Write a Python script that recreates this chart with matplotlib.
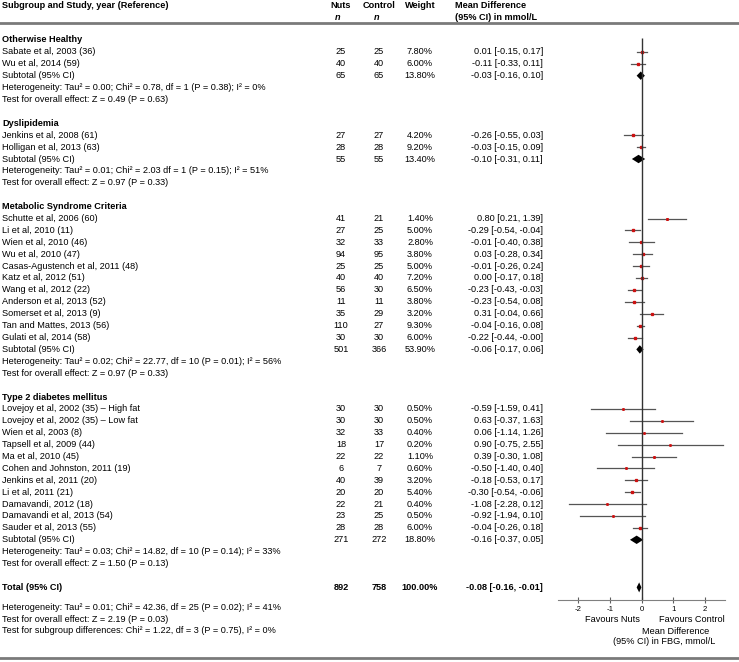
import matplotlib
matplotlib.use("Agg")
import matplotlib.pyplot as plt

plt.rcParams['font.family'] = ['Liberation Sans', 'DejaVu Sans']
plt.rcParams['axes.unicode_minus'] = False

# ---- data ----
groups = ["Otherwise Healthy", "Dyslipidemia", "Metabolic Syndrome Criteria", "Type 2 diabetes mellitus"]

studies = [
    ["Sabate et al, 2003 (36)", "Wu et al, 2014 (59)"],
    ["Jenkins et al, 2008 (61)", "Holligan et al, 2013 (63)"],
    ["Schutte et al, 2006 (60)", "Li et al, 2010 (11)", "Wien et al, 2010 (46)", "Wu et al, 2010 (47)",
     "Casas-Agustench et al, 2011 (48)", "Katz et al, 2012 (51)", "Wang et al, 2012 (22)",
     "Anderson et al, 2013 (52)", "Somerset et al, 2013 (9)", "Tan and Mattes, 2013 (56)",
     "Gulati et al, 2014 (58)"],
    ["Lovejoy et al, 2002 (35) \u2013 High fat", "Lovejoy et al, 2002 (35) \u2013 Low fat",
     "Wien et al, 2003 (8)", "Tapsell et al, 2009 (44)", "Ma et al, 2010 (45)",
     "Cohen and Johnston, 2011 (19)", "Jenkins et al, 2011 (20)", "Li et al, 2011 (21)",
     "Damavandi, 2012 (18)", "Damavandi et al, 2013 (54)", "Sauder et al, 2013 (55)"],
]
n_nuts = [[25, 40], [27, 28],
          [41, 27, 32, 94, 25, 40, 56, 11, 35, 110, 30],
          [30, 30, 32, 18, 22, 6, 40, 20, 22, 23, 28]]
n_ctrl = [[25, 40], [27, 28],
          [21, 25, 33, 95, 25, 40, 30, 11, 29, 27, 30],
          [30, 30, 33, 17, 22, 7, 39, 20, 21, 25, 28]]
weights = [[7.8, 6.0], [4.2, 9.2],
           [1.4, 5.0, 2.8, 3.8, 5.0, 7.2, 6.5, 3.8, 3.2, 9.3, 6.0],
           [0.5, 0.5, 0.4, 0.2, 1.1, 0.6, 3.2, 5.4, 0.4, 0.5, 6.0]]
md = [[0.01, -0.11], [-0.26, -0.03],
      [0.80, -0.29, -0.01, 0.03, -0.01, 0.00, -0.23, -0.23, 0.31, -0.04, -0.22],
      [-0.59, 0.63, 0.06, 0.90, 0.39, -0.50, -0.18, -0.30, -1.08, -0.92, -0.04]]
lo = [[-0.15, -0.33], [-0.55, -0.15],
      [0.21, -0.54, -0.40, -0.28, -0.26, -0.17, -0.43, -0.54, -0.04, -0.16, -0.44],
      [-1.59, -0.37, -1.14, -0.75, -0.30, -1.40, -0.53, -0.54, -2.28, -1.94, -0.26]]
hi = [[0.17, 0.11], [0.03, 0.09],
      [1.39, -0.04, 0.38, 0.34, 0.24, 0.18, -0.03, 0.08, 0.66, 0.08, -0.00],
      [0.41, 1.63, 1.26, 2.55, 1.08, 0.40, 0.17, -0.06, 0.12, 0.10, 0.18]]

sub_n_nuts = [65, 55, 501, 271]
sub_n_ctrl = [65, 55, 366, 272]
sub_weight = [13.8, 13.4, 53.9, 18.8]
sub_md = [-0.03, -0.10, -0.06, -0.16]
sub_lo = [-0.16, -0.31, -0.17, -0.37]
sub_hi = [0.10, 0.11, 0.06, 0.05]
heterogeneity = [
    "Heterogeneity: Tau\u00b2 = 0.00; Chi\u00b2 = 0.78, df = 1 (P = 0.38); I\u00b2 = 0%",
    "Heterogeneity: Tau\u00b2 = 0.01; Chi\u00b2 = 2.03 df = 1 (P = 0.15); I\u00b2 = 51%",
    "Heterogeneity: Tau\u00b2 = 0.02; Chi\u00b2 = 22.77, df = 10 (P = 0.01); I\u00b2 = 56%",
    "Heterogeneity: Tau\u00b2 = 0.03; Chi\u00b2 = 14.82, df = 10 (P = 0.14); I\u00b2 = 33%",
]
overall = [
    "Test for overall effect: Z = 0.49 (P = 0.63)",
    "Test for overall effect: Z = 0.97 (P = 0.33)",
    "Test for overall effect: Z = 0.97 (P = 0.33)",
    "Test for overall effect: Z = 1.50 (P = 0.13)",
]

total_n = (892, 758)
total_weight = 100.0
total_md, total_lo, total_hi = -0.08, -0.16, -0.01
footer = [
    "Heterogeneity: Tau\u00b2 = 0.01; Chi\u00b2 = 42.36, df = 25 (P = 0.02); I\u00b2 = 41%",
    "Test for overall effect: Z = 2.19 (P = 0.03)",
    "Test for subgroup differences: Chi\u00b2 = 1.22, df = 3 (P = 0.75), I\u00b2 = 0%",
]
xticks = [-2, -1, 0, 1, 2]

# ---- layout (pixel-like units, y grows downward) ----
W, H = 739, 662
Y0, DY = 40, 11.9
FS = 6.6
X_NAME, X_NUTS, X_CTRL, X_W, X_MD_R, X_MD_L = 2, 341, 379, 420, 543, 455
AX_L, AX_R, AX_TOP, AX_BOT = 558, 725, 30, 600
XMIN = -(641.7 - AX_L) / 31.7
XMAX = (AX_R - 641.7) / 31.7

fig = plt.figure(figsize=(W / 100, H / 100), dpi=100)
tx = fig.add_axes([0, 0, 1, 1])
tx.set_xlim(0, W)
tx.set_ylim(H, 0)
tx.axis("off")

fx = fig.add_axes([AX_L / W, (H - AX_BOT) / H, (AX_R - AX_L) / W, (AX_BOT - AX_TOP) / H])
fx.set_facecolor("none")
fx.set_xlim(XMIN, XMAX)
fx.set_ylim(AX_BOT, AX_TOP)
for s in ["top", "left", "right"]:
    fx.spines[s].set_visible(False)
fx.spines["bottom"].set_color("#808080")
fx.set_yticks([])
fx.set_xticks(xticks)
fx.tick_params(axis="x", direction="inout", length=5, width=0.8, color="#606060",
               labelsize=5.6, pad=2)

# header
hdr = dict(fontsize=FS, fontweight="bold", va="center")
tx.text(X_NAME, 5.5, "Subgroup and Study, year (Reference)", ha="left", **hdr)
tx.text(X_NUTS, 5.5, "Nuts", ha="center", **hdr)
tx.text(X_CTRL, 5.5, "Control", ha="center", **hdr)
tx.text(X_W, 5.5, "Weight", ha="center", **hdr)
tx.text(X_MD_L, 5.5, "Mean Difference", ha="left", **hdr)
tx.text(X_NUTS - 3, 17, "n", ha="center", fontstyle="italic", **hdr)
tx.text(X_CTRL - 2, 17, "n", ha="center", fontstyle="italic", **hdr)
tx.text(X_MD_L, 17, "(95% CI) in mmol/L", ha="left", **hdr)
tx.plot([0, W], [23, 23], color="#7a7a7a", lw=2)
tx.plot([0, W], [658, 658], color="#7a7a7a", lw=2)


def ci_text(m, a, b):
    return f"{m:.2f} [{a:.2f}, {b:.2f}]"


def row_text(y, name, nn, nc, w, m, a, b, bold=False):
    kw = dict(fontsize=FS, va="center", fontweight="bold" if bold else "normal")
    tx.text(X_NAME, y, name, ha="left", **kw)
    tx.text(X_NUTS, y, str(nn), ha="center", **kw)
    tx.text(X_CTRL, y, str(nc), ha="center", **kw)
    tx.text(X_W, y, f"{w:.2f}%", ha="center", **kw)
    tx.text(X_MD_R, y, ci_text(m, a, b), ha="right", **kw)


def diamond(y, m, a, b, h):
    fx.fill([a, m, b, m], [y, y - h, y, y + h], color="black", lw=0)


row = 0
for g in range(len(groups)):
    y = Y0 + row * DY
    tx.text(X_NAME, y, groups[g], ha="left", va="center", fontsize=FS, fontweight="bold")
    row += 1
    for i in range(len(studies[g])):
        y = Y0 + row * DY
        row_text(y, studies[g][i], n_nuts[g][i], n_ctrl[g][i], weights[g][i],
                 md[g][i], lo[g][i], hi[g][i])
        fx.plot([lo[g][i], hi[g][i]], [y, y], color="#555555", lw=0.9)
        fx.plot(md[g][i], y, marker="s", color="#cc1111", ms=1.0 + 0.12 * weights[g][i], lw=0)
        row += 1
    y = Y0 + row * DY
    row_text(y, "Subtotal (95% CI)", sub_n_nuts[g], sub_n_ctrl[g], sub_weight[g],
             sub_md[g], sub_lo[g], sub_hi[g])
    diamond(y, sub_md[g], sub_lo[g], sub_hi[g], 4.2)
    row += 1
    tx.text(X_NAME, Y0 + row * DY, heterogeneity[g], ha="left", va="center", fontsize=FS)
    row += 1
    tx.text(X_NAME, Y0 + row * DY, overall[g], ha="left", va="center", fontsize=FS)
    row += 2

y_total = Y0 + row * DY
row_text(y_total, "Total (95% CI)", total_n[0], total_n[1], total_weight,
         total_md, total_lo, total_hi, bold=True)
diamond(y_total, total_md, total_lo, total_hi, 5)
for k, line in enumerate(footer):
    tx.text(X_NAME, y_total + 20 + k * 11.7, line, ha="left", va="center", fontsize=FS)

fx.vlines(0, 38, AX_BOT, color="#333333", lw=1)

# axis captions
tx.text(612, 620, "Favours Nuts", ha="center", va="center", fontsize=FS)
tx.text(692, 620, "Favours Control", ha="center", va="center", fontsize=FS)
tx.text(676, 631, "Mean Difference", ha="center", va="center", fontsize=FS)
tx.text(664, 642, "(95% CI) in FBG, mmol/L", ha="center", va="center", fontsize=FS)

fig.savefig("out.png", dpi=100)
